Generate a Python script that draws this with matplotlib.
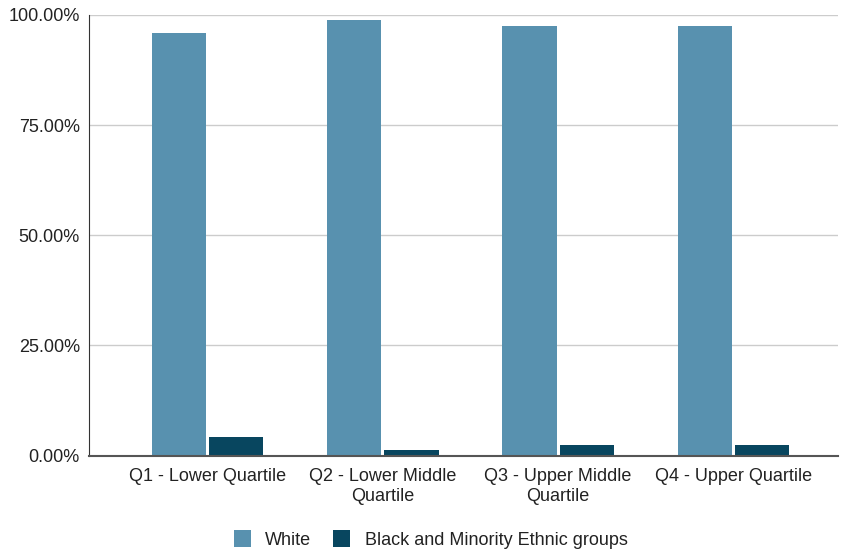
import numpy as np
import matplotlib
matplotlib.use('Agg')
import matplotlib.pyplot as plt
from matplotlib.ticker import FuncFormatter

# data (percent)
categories = ['Q1 - Lower Quartile', 'Q2 - Lower Middle\nQuartile',
              'Q3 - Upper Middle\nQuartile', 'Q4 - Upper Quartile']
white = [95.8, 98.8, 97.5, 97.5]
bme = [4.2, 1.2, 2.5, 2.5]
series_names = ['White', 'Black and Minority Ethnic groups']
yticks = [0, 25, 50, 75, 100]

col_white = '#5891af'
col_bme = '#08465f'

plt.rcParams['font.family'] = ['Liberation Sans', 'DejaVu Sans']

fig = plt.figure(figsize=(8.41, 5.51), dpi=100)
ax = fig.add_axes([0.1058, 0.173, 0.8906, 0.7999])

x = np.arange(len(categories))
w = 0.31
ax.bar(x - 0.163, white, width=w, color=col_white, label=series_names[0], zorder=3)
ax.bar(x + 0.164, bme, width=w, color=col_bme, label=series_names[1], zorder=3)

ax.set_xlim(-0.676, 3.597)
ax.set_ylim(0, 100)
ax.set_yticks(yticks)
ax.yaxis.set_major_formatter(FuncFormatter(lambda v, p: '%.2f%%' % v))
ax.set_xticks(x)
ax.set_xticklabels(categories, fontsize=13, color='#222222', linespacing=1.2)
ax.tick_params(axis='y', labelsize=13, colors='#222222', length=0, pad=6.5)
ax.tick_params(axis='x', length=0, pad=9)

ax.grid(axis='y', color='#cccccc', linewidth=1, zorder=0)
for s in ['top', 'right']:
    ax.spines[s].set_visible(False)
ax.spines['left'].set_color('#333333')
ax.spines['bottom'].set_color('#555555')
ax.spines['bottom'].set_linewidth(1.5)
ax.spines['bottom'].set_zorder(4)

# legend sits a bit right of the figure centre in the reference
leg = fig.legend(loc='center', bbox_to_anchor=(0.512, 0.021), ncol=2, frameon=False,
                 fontsize=13, handlelength=0.95, handleheight=1.05,
                 handletextpad=0.8, columnspacing=1.2)
for t in leg.get_texts():
    t.set_color('#222222')

fig.savefig('out.png', dpi=100)
